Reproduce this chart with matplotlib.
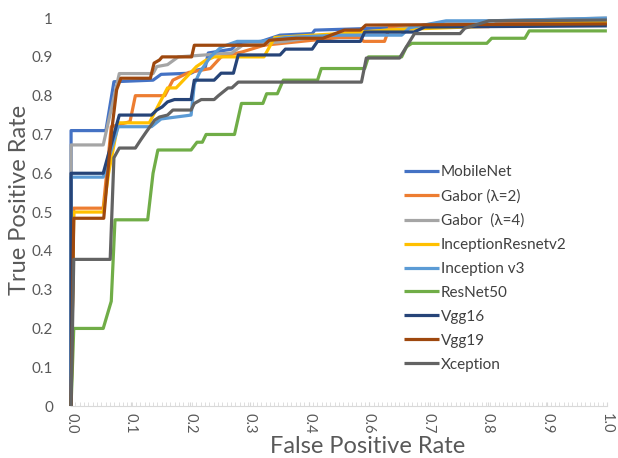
import numpy as np
import matplotlib.pyplot as plt

# x positions are read as fractions along the (category) axis, 0 = left, 1 = right
xtick_labels = ['0.0', '0.1', '0.2', '0.3', '0.4', '0.6', '0.7', '0.8', '0.9', '1.0']
ytick_labels = ['0', '0.1', '0.2', '0.3', '0.4', '0.5', '0.6', '0.7', '0.8', '0.9', '1']

mobilenet_x = [0, 0, 0.065, 0.08, 0.153, 0.168, 0.224, 0.235, 0.25, 0.256, 0.3, 0.31, 0.355, 0.39, 0.45, 0.455, 0.6, 0.65, 1.0]
mobilenet_y = [0, 0.71, 0.71, 0.836, 0.84, 0.855, 0.858, 0.866, 0.87, 0.91, 0.92, 0.935, 0.94, 0.956, 0.96, 0.969, 0.975, 0.98, 0.985]

gabor2_x = [0, 0.005, 0.06, 0.075, 0.11, 0.12, 0.175, 0.19, 0.22, 0.26, 0.28, 0.32, 0.36, 0.5, 0.54, 0.546, 0.585, 0.595, 0.78, 0.8, 1.0]
gabor2_y = [0, 0.51, 0.51, 0.72, 0.733, 0.8, 0.8, 0.84, 0.86, 0.87, 0.9, 0.913, 0.93, 0.95, 0.95, 0.94, 0.94, 0.978, 0.978, 0.99, 0.99]

gabor4_x = [0, 0, 0.06, 0.09, 0.153, 0.16, 0.18, 0.2, 0.3, 0.32, 0.4, 0.45, 0.5, 0.6, 0.65, 0.7, 1.0]
gabor4_y = [0, 0.673, 0.673, 0.857, 0.857, 0.875, 0.88, 0.9, 0.91, 0.93, 0.94, 0.95, 0.96, 0.97, 0.98, 0.99, 1.0]

incres_x = [0, 0.005, 0.06, 0.07, 0.088, 0.146, 0.18, 0.196, 0.234, 0.25, 0.267, 0.286, 0.36, 0.38, 0.5, 0.6, 1.0]
incres_y = [0, 0.5, 0.5, 0.6, 0.73, 0.73, 0.82, 0.82, 0.875, 0.89, 0.9, 0.9, 0.9, 0.95, 0.96, 0.97, 0.99]

incv3_x = [0, 0, 0.06, 0.088, 0.15, 0.168, 0.224, 0.23, 0.24, 0.26, 0.28, 0.31, 0.355, 0.4, 0.5, 0.617, 0.632, 0.70, 0.78, 1.0]
incv3_y = [0, 0.59, 0.59, 0.72, 0.72, 0.74, 0.75, 0.83, 0.86, 0.9, 0.925, 0.94, 0.94, 0.95, 0.956, 0.956, 0.975, 0.993, 0.993, 1.0]

resnet_x = [0, 0.005, 0.06, 0.075, 0.082, 0.143, 0.153, 0.162, 0.224, 0.235, 0.245, 0.252, 0.305, 0.318, 0.358, 0.365, 0.385, 0.396, 0.46, 0.467, 0.548, 0.555, 0.617, 0.626, 0.636, 0.776, 0.785, 0.847, 0.855, 1.0]
resnet_y = [0, 0.2, 0.2, 0.27, 0.48, 0.48, 0.6, 0.66, 0.66, 0.68, 0.68, 0.70, 0.70, 0.78, 0.78, 0.805, 0.805, 0.84, 0.84, 0.87, 0.87, 0.90, 0.90, 0.926, 0.935, 0.935, 0.948, 0.948, 0.967, 0.967]

vgg16_x = [0, 0, 0.06, 0.09, 0.15, 0.16, 0.17, 0.18, 0.193, 0.224, 0.23, 0.267, 0.28, 0.303, 0.312, 0.39, 0.4, 0.45, 0.46, 0.54, 0.548, 0.64, 0.66, 1.0]
vgg16_y = [0, 0.6, 0.6, 0.75, 0.75, 0.763, 0.771, 0.784, 0.79, 0.79, 0.84, 0.84, 0.858, 0.858, 0.905, 0.905, 0.92, 0.92, 0.94, 0.94, 0.964, 0.964, 0.977, 0.98]

vgg19_x = [0, 0.005, 0.061, 0.075, 0.085, 0.093, 0.148, 0.155, 0.165, 0.17, 0.225, 0.23, 0.36, 0.37, 0.42, 0.47, 0.51, 0.54, 0.55, 1.0]
vgg19_y = [0, 0.484, 0.484, 0.7, 0.815, 0.845, 0.845, 0.884, 0.892, 0.9, 0.9, 0.93, 0.93, 0.943, 0.948, 0.948, 0.969, 0.969, 0.982, 0.985]

xception_x = [0, 0.005, 0.073, 0.08, 0.09, 0.12, 0.13, 0.14, 0.156, 0.165, 0.18, 0.19, 0.224, 0.23, 0.243, 0.267, 0.275, 0.293, 0.3, 0.312, 0.542, 0.551, 0.613, 0.641, 0.726, 0.735, 0.78, 1.0]
xception_y = [0, 0.378, 0.378, 0.64, 0.665, 0.665, 0.686, 0.706, 0.737, 0.745, 0.75, 0.763, 0.763, 0.78, 0.79, 0.79, 0.8, 0.82, 0.82, 0.835, 0.835, 0.897, 0.897, 0.96, 0.96, 0.974, 0.993, 0.995]

series = [
    ('MobileNet', mobilenet_x, mobilenet_y, '#4472C4'),
    ('Gabor (λ=2)', gabor2_x, gabor2_y, '#ED7D31'),
    ('Gabor  (λ=4)', gabor4_x, gabor4_y, '#A5A5A5'),
    ('InceptionResnetv2', incres_x, incres_y, '#FFC000'),
    ('Inception v3', incv3_x, incv3_y, '#5B9BD5'),
    ('ResNet50', resnet_x, resnet_y, '#70AD47'),
    ('Vgg16', vgg16_x, vgg16_y, '#264478'),
    ('Vgg19', vgg19_x, vgg19_y, '#9E480E'),
    ('Xception', xception_x, xception_y, '#636363'),
]

plt.rcParams['font.family'] = ['Lato', 'DejaVu Sans']

fig = plt.figure(figsize=(6.18, 4.58), dpi=100)
ax = fig.add_axes([0.115, 0.1135, 0.867, 0.847])

for name, xs, ys, col in series:
    ax.plot(xs, ys, color=col, lw=2.3, label=name, clip_on=False,
            solid_joinstyle='round', solid_capstyle='butt')

ax.set_xlim(0, 1)
ax.set_ylim(0, 1)
for s in ['top', 'right', 'left']:
    ax.spines[s].set_visible(False)
ax.spines['bottom'].set_color('#D9D9D9')

ax.set_xticks(np.linspace(0, 1, len(xtick_labels)))
ax.set_xticklabels(xtick_labels, rotation=270, fontsize=10.5, color='#595959')
ax.set_xticks(np.linspace(0, 1, 125), minor=True)
ax.tick_params(axis='x', which='both', direction='in', length=3, color='#D9D9D9', pad=5)

ax.set_yticks(np.linspace(0, 1, len(ytick_labels)))
ax.set_yticklabels(ytick_labels, fontsize=11, color='#595959')
ax.tick_params(axis='y', length=0, pad=13)

ax.set_xlabel('False Positive Rate', fontsize=17, color='#595959')
ax.xaxis.set_label_coords(0.553, -0.078)
ax.set_ylabel('True Positive Rate', fontsize=17, color='#595959')
ax.yaxis.set_label_coords(-0.077, 0.531)

leg = ax.legend(loc='upper left', bbox_to_anchor=(0.644, 0.652), bbox_transform=fig.transFigure,
                frameon=False, fontsize=11, handlelength=2.3, handletextpad=0.1,
                labelspacing=0.65, borderaxespad=0)
for t in leg.get_texts():
    t.set_color('#404040')

fig.savefig('out.png', dpi=100)
